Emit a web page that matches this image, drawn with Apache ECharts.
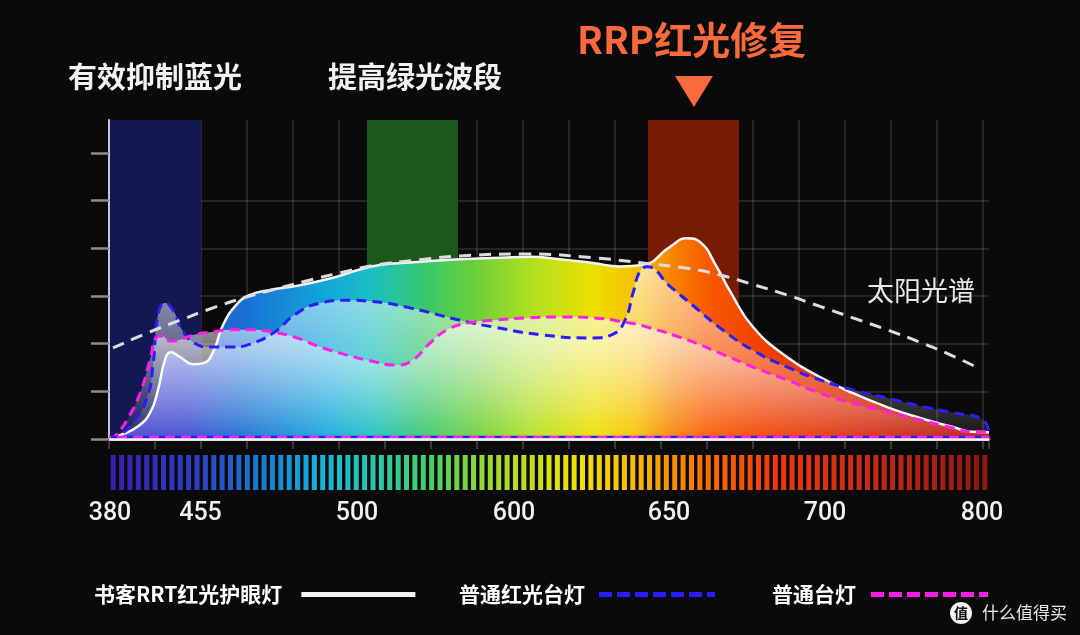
<!DOCTYPE html>
<html lang="zh">
<head>
<meta charset="UTF-8">
<title>光谱对比</title>
<style>
  html, body { margin: 0; padding: 0; background: #0a0a0a; }
  #main { width: 1080px; height: 635px; }
</style>
</head>
<body>
<div id="main"></div>
<script src="https://cdn.jsdelivr.net/npm/echarts@6.0.0/dist/echarts.min.js"></script>
<script>
// 横坐标用图上的相对位置(0~880), 纵坐标每格为 1
var xTickPos = [1, 91.5, 248, 405, 560, 716, 873];
var xTickLabels = ['380', '455', '500', '600', '650', '700', '800'];
var yTicks = [0, 1, 2, 3, 4, 5, 6];

// 书客RRT红光护眼灯
var rrtLamp = [[0, 0], [11, 0.08], [28, 0.25], [41, 0.55], [49, 1.03], [56, 1.66], [62, 1.82], [71, 1.72],
  [84, 1.57], [94, 1.59], [104, 1.82], [114, 2.39], [128, 2.83], [141, 3.02], [160, 3.12], [190, 3.22],
  [224, 3.38], [248, 3.54], [271, 3.65], [301, 3.70], [351, 3.77], [391, 3.80], [421, 3.82],
  [451, 3.77], [484, 3.69], [511, 3.62], [534, 3.65], [561, 4.03], [578, 4.21], [591, 4.13], [608, 3.60],
  [621, 3.10], [644, 2.35], [678, 1.72], [711, 1.30], [744, 0.96], [778, 0.67], [811, 0.44], [844, 0.25],
  [862, 0.15], [880, 0.14]];
// 普通红光台灯
var redLamp = [[0, 0], [9, 0.06], [24, 0.34], [38, 0.86], [44, 1.55], [49, 2.60], [56, 2.85], [64, 2.70],
  [73, 2.29], [84, 2.03], [101, 1.93], [124, 1.93], [141, 1.99], [164, 2.22], [188, 2.64], [211, 2.85],
  [238, 2.91], [261, 2.89], [301, 2.75], [351, 2.49], [384, 2.35], [434, 2.18], [484, 2.12], [504, 2.20],
  [516, 2.49], [524, 3.06], [531, 3.52], [538, 3.61], [561, 3.20], [584, 2.80], [611, 2.33], [644, 1.86],
  [678, 1.51], [711, 1.24], [744, 1.03], [778, 0.86], [811, 0.69], [844, 0.55], [874, 0.40], [880, 0.06]];
// 普通台灯
var normalLamp = [[0, 0], [6, 0.06], [18, 0.40], [31, 0.96], [41, 1.66], [47, 2.12], [53, 2.16], [61, 2.05],
  [71, 2.08], [84, 2.18], [101, 2.24], [124, 2.29], [141, 2.29], [164, 2.24], [188, 2.12], [211, 1.93],
  [238, 1.76], [261, 1.64], [288, 1.55], [304, 1.66], [321, 2.01], [338, 2.29], [358, 2.43], [384, 2.49],
  [418, 2.54], [451, 2.56], [484, 2.54], [516, 2.45], [538, 2.35], [578, 2.08], [611, 1.80], [644, 1.51],
  [678, 1.24], [711, 0.96], [744, 0.75], [778, 0.57], [811, 0.40], [844, 0.23], [861, 0.15], [877, 0.15],
  [880, 0.03]];
// 太阳光谱
var sunlight = [[4, 1.91], [38, 2.22], [71, 2.49], [104, 2.75], [138, 2.98], [171, 3.17], [204, 3.35],
  [238, 3.52], [264, 3.64], [311, 3.76], [351, 3.84], [418, 3.88], [484, 3.80], [534, 3.69], [578, 3.58],
  [611, 3.44], [644, 3.24], [678, 3.02], [711, 2.78], [744, 2.54], [778, 2.29], [811, 2.03], [844, 1.74],
  [871, 1.47]];
// 两种台灯沿底边的虚线
var lampBase = [[0, 0.04], [880, 0.04]];
// 蓝 / 绿 / 红 三个波段
var bands = [[0, 92], [258, 349], [539, 630]];
var stripeCount = 105;

var bandColors = ['#141b54', '#225d1d', '#7a1f06'];
var bandShade = ['rgba(10,10,70,0.18)', 'rgba(0,50,0,0.12)', 'rgba(90,10,0,0.10)'];

var specStops = [
  [0, '#3a1cb0'], [0.1, '#2a40c0'], [0.2, '#1490d8'], [0.24, '#18b4dc'], [0.29, '#22c4b8'],
  [0.37, '#48d060'], [0.42, '#90d838'], [0.5, '#d8e010'], [0.54, '#f2e000'], [0.6, '#f8b800'],
  [0.65, '#f88800'], [0.7, '#f86000'], [0.76, '#f03810'], [0.88, '#c02818'], [1, '#8a1810']
];
var areaStops = [
  [0, '#4c40cc'], [0.09, '#3c4cd0'], [0.15, '#1a6ed2'], [0.25, '#12a8da'], [0.3, '#1cc0c0'],
  [0.36, '#38c868'], [0.42, '#70d038'], [0.48, '#b0e020'], [0.55, '#ecdf00'], [0.6, '#f8c000'],
  [0.64, '#f88400'], [0.68, '#f85a00'], [0.74, '#f04200'], [0.85, '#d83010'], [1, '#b01810']
];

function stops(list) {
  return list.map(function (s) { return { offset: s[0], color: s[1] }; });
}

var myChart = echarts.init(document.getElementById('main'));

var option = {
  backgroundColor: '#0a0a0a',
  animation: false,
  textStyle: { fontFamily: '"Noto Sans CJK SC", "Noto Sans", sans-serif' },
  grid: [
    { left: 109, top: 120, width: 880, height: 319, outerBoundsMode: 'none' },
    { left: 109, top: 455, width: 880, height: 35, outerBoundsMode: 'none' }
  ],
  xAxis: [
    {
      type: 'value', min: 0, max: 880, interval: 46, z: 1,
      axisLine: { show: true, lineStyle: { color: '#eeeeee', width: 2.5 } },
      axisTick: { show: true, length: 10, lineStyle: { color: '#4a4a4a', width: 1.5 } },
      splitLine: { show: true, showMaxLine: false, lineStyle: { color: 'rgba(255,255,255,0.16)', width: 1.5 } },
      axisLabel: {
        show: true, customValues: xTickPos, margin: 62,
        color: '#f0f0f0', fontSize: 25, fontFamily: 'Roboto', fontWeight: 500,
        formatter: function (v) {
          var i = xTickPos.indexOf(v);
          return i >= 0 ? xTickLabels[i] : '';
        }
      }
    },
    { type: 'category', gridIndex: 1, show: false }
  ],
  yAxis: [
    {
      type: 'value', min: 0, max: 6.69, interval: 1, z: 1,
      axisLine: { show: true, lineStyle: { color: '#c4c4dc', width: 2 } },
      axisTick: { show: true, customValues: yTicks, length: 18, lineStyle: { color: '#8c8c8c', width: 2.5 } },
      axisLabel: { show: false },
      splitLine: { show: true, showMaxLine: false, lineStyle: { color: 'rgba(255,255,255,0.16)', width: 1.5 } }
    },
    { type: 'value', gridIndex: 1, min: 0, max: 1, show: false }
  ],
  legend: [
    legendItem('书客RRT红光护眼灯', 89, 114, 14, { color: '#f4f4f4', width: 5, type: 'solid' }),
    legendItem('普通红光台灯', 454, 116, 9, { color: '#2a1cff', width: 5, type: [13, 5] }),
    legendItem('普通台灯', 767, 117, 10, { color: '#ff1ee6', width: 5, type: [13, 5] })
  ],
  series: [
    {
      // 波段底色
      type: 'line', data: [], z: 0, clip: false, silent: true,
      markArea: {
        silent: true,
        data: bands.map(function (b, i) {
          return [{ xAxis: b[0], yAxis: 0, itemStyle: { color: bandColors[i], opacity: 1 } }, { xAxis: b[1], yAxis: 6.69 }];
        }).concat(bands.map(function (b, i) {
          return [{ xAxis: b[0], yAxis: -1.95, itemStyle: { color: bandColors[i], opacity: 0.2 } }, { xAxis: b[1], yAxis: 0 }];
        }))
      }
    },
    {
      name: '书客RRT红光护眼灯', type: 'line', data: rrtLamp, z: 2,
      smooth: 0.5, symbol: 'none',
      lineStyle: { color: '#f5f5f5', width: 2.5 },
      areaStyle: { opacity: 1, color: new echarts.graphic.LinearGradient(0, 0, 1, 0, stops(areaStops)) }
    },
    {
      name: '普通红光台灯', type: 'line', data: redLamp, z: 3,
      smooth: 0.5, symbol: 'none',
      lineStyle: { color: '#2a1cff', width: 3, type: [10, 6] },
      areaStyle: {
        opacity: 1,
        color: new echarts.graphic.LinearGradient(0, 0, 0, 1, [
          { offset: 0, color: 'rgba(255,255,255,0.6)' },
          { offset: 1, color: 'rgba(255,255,255,0.05)' }
        ])
      }
    },
    {
      name: '普通台灯', type: 'line', data: normalLamp, z: 3,
      smooth: 0.5, symbol: 'none',
      lineStyle: { color: '#ff1ee6', width: 3, type: [10, 6] },
      areaStyle: {
        opacity: 1,
        color: new echarts.graphic.LinearGradient(0, 0, 0, 1, [
          { offset: 0, color: 'rgba(255,255,255,0.6)' },
          { offset: 1, color: 'rgba(255,255,255,0)' }
        ])
      }
    },
    {
      type: 'line', data: lampBase, z: 4, symbol: 'none', silent: true,
      lineStyle: { color: '#2a1cff', width: 2.5, type: [10, 6] }
    },
    {
      type: 'line', data: lampBase, z: 4, symbol: 'none', silent: true,
      lineStyle: { color: '#ff1ee6', width: 2.5, type: [10, 6], dashOffset: 8 }
    },
    {
      name: '太阳光谱', type: 'line', data: sunlight, z: 5,
      smooth: 0.5, symbol: 'none',
      lineStyle: { color: '#dedede', width: 3, type: [12, 8] },
      markLine: {
        silent: true, symbol: ['none', 'none'], label: { show: false },
        lineStyle: { color: '#f2f2f2', width: 2.5, type: 'solid' },
        data: [{ yAxis: 0 }]
      },
      markArea: {
        silent: true,
        data: bands.map(function (b, i) {
          return [{ xAxis: b[0], yAxis: 0, itemStyle: { color: bandShade[i] } }, { xAxis: b[1], yAxis: 6.69 }];
        })
      }
    },
    {
      // 底部光谱色条
      type: 'bar', xAxisIndex: 1, yAxisIndex: 1, silent: true,
      data: new Array(stripeCount).fill(1), barWidth: 5,
      itemStyle: {
        color: { type: 'linear', x: 109, y: 0, x2: 989, y2: 0, global: true, colorStops: stops(specStops) }
      }
    }
  ],
  graphic: [
    { type: 'text', x: 68, y: 77, style: { text: '有效抑制蓝光', fill: '#f2f2f2', font: 'bold 29px "Noto Sans CJK SC"', textAlign: 'left', align: 'left', textVerticalAlign: 'middle', verticalAlign: 'middle' } },
    { type: 'text', x: 328, y: 77, style: { text: '提高绿光波段', fill: '#f2f2f2', font: 'bold 29px "Noto Sans CJK SC"', textAlign: 'left', align: 'left', textVerticalAlign: 'middle', verticalAlign: 'middle' } },
    { type: 'text', x: 577, y: 40, style: { text: 'RRP红光修复', fill: '#fa6a3c', font: 'bold 38px "Noto Sans CJK SC"', textAlign: 'left', align: 'left', textVerticalAlign: 'middle', verticalAlign: 'middle' } },
    { type: 'polygon', shape: { points: [[675, 76], [713, 76], [694, 107]] }, style: { fill: '#fa6a3c' } },
    { type: 'text', x: 867, y: 291, style: { text: '太阳光谱', fill: '#e8e8e8', font: '27px "Noto Sans CJK SC"', textAlign: 'left', align: 'left', textVerticalAlign: 'middle', verticalAlign: 'middle' } },
    { type: 'circle', shape: { cx: 961, cy: 613, r: 11 }, style: { fill: '#f0f0f0' } },
    { type: 'text', x: 961, y: 613, style: { text: '值', fill: '#111111', font: 'bold 14px "Noto Sans CJK SC"', textAlign: 'center', align: 'center', textVerticalAlign: 'middle', verticalAlign: 'middle' } },
    { type: 'text', x: 982, y: 613, style: { text: '什么值得买', fill: '#e6e6e6', font: '17px "Noto Sans CJK SC"', textAlign: 'left', align: 'left', textVerticalAlign: 'middle', verticalAlign: 'middle' } }
  ]
};

function legendItem(name, left, width, gap, line) {
  return {
    left: left, top: 579, align: 'right', selectedMode: false,
    itemWidth: width, itemHeight: 14,
    data: [{ name: name, lineStyle: line, itemStyle: { opacity: 0 } }],
    textStyle: { color: '#ffffff', fontSize: 21, fontWeight: 'bold', padding: [0, gap, 0, 0] }
  };
}

option && myChart.setOption(option);
</script>
</body>
</html>
